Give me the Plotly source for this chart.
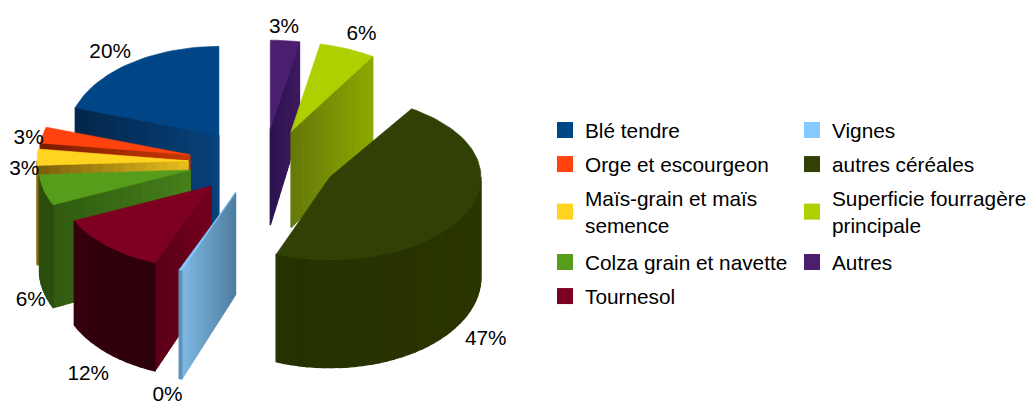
import math
import plotly.graph_objects as go

# ---- data ----
CATEGORIES = ["Blé tendre", "Orge et escourgeon", "Maïs-grain et maïs<br>semence",
              "Colza grain et navette", "Tournesol", "Vignes", "autres céréales",
              "Superficie fourragère<br>principale", "Autres"]
VALUES = [20.0, 2.9, 3.0, 6.0, 12.0, 0.3, 46.7, 6.0, 3.1]

# ---- styles ----
TOP = ["#004586", "#ff420e", "#ffd320", "#579d1c", "#7e0021", "#83caff", "#314004", "#aecf00", "#4b1f6f"]
CUT_INNER = ["#06427c", "#c93a05", "#e8bf1e", "#47801a", "#74001e", "#4e7d9f", "#314004", "#64780a", "#2a1350"]
CUT_OUTER = ["#04264a", "#7a1c00", "#7a5f0a", "#2f5a10", "#5a0018", "#7fb9e3", "#314004", "#8ea800", "#3f1a60"]
ARC_LEFT = ["#02305f", "#8a2400", "#8a6a12", "#2a4f0e", "#35000e", "#5f92b8", "#263100", "#64780a", "#2a1350"]
ARC_RIGHT = ["#02305f", "#8a2400", "#8a6a12", "#2a4f0e", "#2c000c", "#5f92b8", "#2b3602", "#64780a", "#2a1350"]
LABEL_NUDGE = [(-20, -10), (-14, 4), (-13, 12), (-13, 9), (-19, 22), (-13, 17), (21, 22), (14, -14), (-1, -13)]
PAINT_ORDER = [8, 7, 0, 1, 2, 3, 4, 5, 6]
LEGEND_OF = ["legend", "legend", "legend", "legend3", "legend3", "legend2", "legend2", "legend2", "legend4"]
FONT = "Liberation Sans"
FONT_SIZE = 20.8

# ---- projection of the tilted, exploded pie ----
CX, CY = 263, 162
EX, EY = 75, 33
RX, RY_FRONT, RY_BACK = 151, 83, 89
RY_BACK_OVERRIDE = {6: 81}


def lerp(a, b, t):
    ca = [int(a[i:i + 2], 16) for i in (1, 3, 5)]
    cb = [int(b[i:i + 2], 16) for i in (1, 3, 5)]
    return "#%02x%02x%02x" % tuple(round(p + (q - p) * t) for p, q in zip(ca, cb))


def depth(y):
    return 96 + 0.09 * (y - 129)


def spans():
    total = sum(VALUES)
    out = {}
    ang = 0.0
    for i in reversed(range(len(VALUES))):
        sweep = VALUES[i] / total * 360
        out[i] = (ang, ang + sweep)
        ang += sweep
    return out


def origin(i, sp):
    m = math.radians(sum(sp[i]) / 2)
    return CX + EX * math.sin(m), CY - EY * math.cos(m)


def rim(i, sp, deg):
    ox, oy = origin(i, sp)
    a = math.radians(deg)
    c = math.cos(a)
    ry = RY_BACK_OVERRIDE.get(i, RY_BACK) if c >= 0 else RY_FRONT
    return ox + RX * math.sin(a), oy - ry * c


def add_poly(fig, pts, color, width=1.3):
    xs = [p[0] for p in pts] + [pts[0][0]]
    ys = [p[1] for p in pts] + [pts[0][1]]
    fig.add_trace(go.Scatter(x=xs, y=ys, mode="lines", fill="toself", fillcolor=color,
                             line=dict(color=color, width=width), hoverinfo="skip", showlegend=False))


def side(p):
    return (p[0], p[1] + depth(p[1]))


fig = go.Figure()
sp = spans()

for i in PAINT_ORDER:
    a0, a1 = sp[i]
    apex = origin(i, sp)
    # radial cut faces turned towards the viewer
    edges = []
    if math.sin(math.radians(a0)) < 0:
        edges.append(a0)
    if math.sin(math.radians(a1)) > 0:
        edges.append(a1)
    for e in edges:
        out = rim(i, sp, e)
        n = 14
        for k in range(n):
            t0, t1 = k / n, (k + 1) / n
            p0 = (apex[0] + (out[0] - apex[0]) * t0, apex[1] + (out[1] - apex[1]) * t0)
            p1 = (apex[0] + (out[0] - apex[0]) * t1, apex[1] + (out[1] - apex[1]) * t1)
            add_poly(fig, [p0, p1, side(p1), side(p0)], lerp(CUT_INNER[i], CUT_OUTER[i], (t0 + t1) / 2))
    # outer rim, only where it faces the viewer
    lo, hi = max(a0, 90), min(a1, 270)
    if hi > lo:
        n = max(1, int((hi - lo) / 3))
        for k in range(n):
            d0 = lo + (hi - lo) * k / n
            d1 = lo + (hi - lo) * (k + 1) / n
            p0, p1 = rim(i, sp, d0), rim(i, sp, d1)
            add_poly(fig, [p0, p1, side(p1), side(p0)], lerp(ARC_RIGHT[i], ARC_LEFT[i], (k + 0.5) / n))
    # top face
    n = max(2, int((a1 - a0) / 2))
    top = [apex] + [rim(i, sp, a0 + (a1 - a0) * k / n) for k in range(n + 1)]
    add_poly(fig, top, TOP[i], width=0.6)

# value labels
for i, v in enumerate(VALUES):
    a0, a1 = sp[i]
    m = (a0 + a1) / 2
    p = rim(i, sp, m)
    if 90 < m < 270:
        p = side(p)
    fig.add_trace(go.Scatter(x=[p[0] + LABEL_NUDGE[i][0]], y=[p[1] + LABEL_NUDGE[i][1]], mode="text",
                             text=[f"{round(v)}%"], textposition="middle center",
                             textfont=dict(family=FONT, size=FONT_SIZE, color="#000000"),
                             hoverinfo="skip", showlegend=False))

# legend entries
for i, name in enumerate(CATEGORIES):
    fig.add_trace(go.Scatter(x=[None], y=[None], mode="markers", name=name, legendgroup=str(i),
                             legend=LEGEND_OF[i],
                             marker=dict(symbol="square", size=16, color=TOP[i])))

legend_style = dict(font=dict(family=FONT, size=FONT_SIZE, color="#000000"), bgcolor="rgba(0,0,0,0)",
                    xanchor="left", yanchor="top", tracegroupgap=4, itemclick=False, itemdoubleclick=False,
                    traceorder="grouped", itemwidth=30, borderwidth=0)
fig.update_layout(
    width=1034, height=405, margin=dict(l=0, r=0, t=0, b=0),
    paper_bgcolor="#ffffff", plot_bgcolor="#ffffff", font=dict(family=FONT),
    xaxis=dict(range=[0, 1034], visible=False, fixedrange=True),
    yaxis=dict(range=[405, 0], visible=False, fixedrange=True),
    legend=dict(x=545 / 1034, y=1 - 110 / 405, **legend_style),
    legend2=dict(x=792 / 1034, y=1 - 110 / 405, **legend_style),
    legend3=dict(x=545 / 1034, y=1 - 242 / 405, **legend_style),
    legend4=dict(x=792 / 1034, y=1 - 242 / 405, **legend_style),
)
fig.write_html("out.html", config={"displayModeBar": False},
               post_script="document.body.style.margin='0';document.body.style.overflow='hidden';")
